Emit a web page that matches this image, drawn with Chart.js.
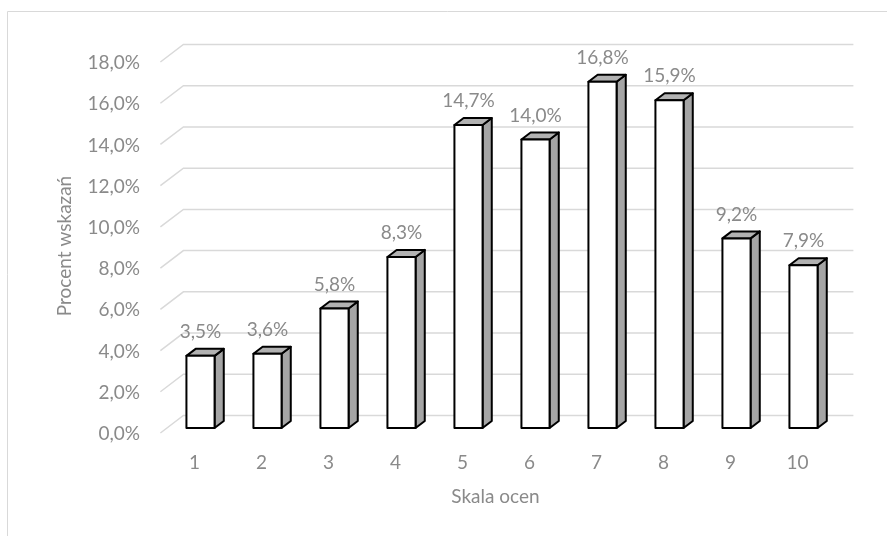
<!DOCTYPE html>
<html lang="pl">
<head>
<meta charset="utf-8">
<title>Procent wskazań – skala ocen</title>
<script src="https://cdn.jsdelivr.net/npm/chart.js@4/dist/chart.umd.min.js"></script>
<style>
  html, body { margin: 0; padding: 0; background: #ffffff; }
  #wrap { width: 887px; height: 536px; position: relative; }
</style>
</head>
<body>
<div id="wrap"><canvas id="chart" width="887" height="536"></canvas></div>
<script>
// Rating scale and share of answers (%)
const categories = ['1', '2', '3', '4', '5', '6', '7', '8', '9', '10'];
const shares = [3.5, 3.6, 5.8, 8.3, 14.7, 14.0, 16.8, 15.9, 9.2, 7.9];
const axisMin = 0;
const axisMax = 18;
const axisStep = 2;
const xTitle = 'Skala ocen';
const yTitle = 'Procent wskazań';

const FONT = 'Lato, "Open Sans", sans-serif';
const TEXT = '#8a8a8a';
const GRID = '#d9d9d9';

const pct = v => v.toFixed(1).replace('.', ',') + '%';

// Oblique depth: floor front edge -> back wall, and the bar's own depth
const FLOOR_FRONT = { dx: -6.6, dy: 5 };   // from bar front plane to floor front
const WALL = { dx: 16.4, dy: -12.5 };      // from bar front plane to back wall
const BAR_DEPTH = { dx: 9.2, dy: -7 };     // bar front face -> bar back face

const frame = {
  id: 'frame',
  beforeDraw(chart) {
    const ctx = chart.ctx;
    ctx.save();
    ctx.strokeStyle = GRID;
    ctx.lineWidth = 1;
    ctx.beginPath();
    ctx.moveTo(7.5, chart.height + 5);
    ctx.lineTo(7.5, 11.5);
    ctx.lineTo(chart.width + 5, 11.5);
    ctx.stroke();
    ctx.restore();
  }
};

const wallGrid = {
  id: 'wallGrid',
  beforeDatasetsDraw(chart) {
    const { ctx, chartArea } = chart;
    const y = chart.scales.y;
    ctx.save();
    ctx.strokeStyle = GRID;
    ctx.lineWidth = 1.5;
    for (let v = axisMin; v <= axisMax + 1e-9; v += axisStep) {
      const py = y.getPixelForValue(v);
      ctx.beginPath();
      ctx.moveTo(chartArea.left + FLOOR_FRONT.dx, py + FLOOR_FRONT.dy);
      ctx.lineTo(chartArea.left + WALL.dx, py + WALL.dy);
      ctx.lineTo(chartArea.right + WALL.dx, py + WALL.dy);
      ctx.stroke();
    }
    ctx.restore();
  }
};

const boxes = {
  id: 'boxes',
  afterDatasetsDraw(chart) {
    const ctx = chart.ctx;
    const meta = chart.getDatasetMeta(0);
    const dx = BAR_DEPTH.dx, dy = BAR_DEPTH.dy;
    ctx.save();
    ctx.lineWidth = 2;
    ctx.lineJoin = 'round';
    ctx.strokeStyle = '#000000';
    meta.data.forEach((bar, i) => {
      const { x, y, base, width } = bar.getProps(['x', 'y', 'base', 'width'], true);
      const l = x - width / 2, r = x + width / 2;
      // side face
      ctx.beginPath();
      ctx.moveTo(r, y);
      ctx.lineTo(r + dx, y + dy);
      ctx.lineTo(r + dx, base + dy);
      ctx.lineTo(r, base);
      ctx.closePath();
      ctx.fillStyle = '#a5a5a5';
      ctx.fill();
      ctx.stroke();
      // top face
      ctx.beginPath();
      ctx.moveTo(l, y);
      ctx.lineTo(l + dx, y + dy);
      ctx.lineTo(r + dx, y + dy);
      ctx.lineTo(r, y);
      ctx.closePath();
      ctx.fillStyle = '#b2b2b2';
      ctx.fill();
      ctx.stroke();
      // front face
      ctx.beginPath();
      ctx.rect(l, y, width, base - y);
      ctx.fillStyle = '#ffffff';
      ctx.fill();
      ctx.stroke();
      // value label
      ctx.fillStyle = TEXT;
      ctx.font = '19px ' + FONT;
      ctx.textAlign = 'center';
      ctx.textBaseline = 'middle';
      ctx.fillText(pct(shares[i]), x, y - 24);
    });
    ctx.restore();
  }
};

const axisTitles = {
  id: 'axisTitles',
  afterDraw(chart) {
    const { ctx, chartArea } = chart;
    ctx.save();
    ctx.fillStyle = TEXT;
    ctx.font = '19px ' + FONT;
    ctx.textAlign = 'center';
    ctx.textBaseline = 'middle';
    const cx = (chartArea.left + chartArea.right) / 2 + FLOOR_FRONT.dx;
    ctx.fillText(xTitle, cx, 497);
    ctx.translate(65, 246);
    ctx.rotate(-Math.PI / 2);
    ctx.fillText(yTitle, 0, 0);
    ctx.restore();
  }
};

new Chart(document.getElementById('chart'), {
  type: 'bar',
  data: {
    labels: categories,
    datasets: [{
      data: shares,
      backgroundColor: 'rgba(0,0,0,0)',
      borderWidth: 0,
      categoryPercentage: 0.84,
      barPercentage: 0.5
    }]
  },
  options: {
    responsive: false,
    animation: false,
    devicePixelRatio: 1,
    layout: { padding: { left: 0, top: 57, right: 50, bottom: 0 } },
    plugins: {
      legend: { display: false },
      tooltip: { enabled: false }
    },
    scales: {
      x: {
        grid: { display: false, drawTicks: false },
        border: { display: false },
        ticks: {
          color: TEXT,
          font: { family: FONT, size: 19 },
          padding: 23,
          labelOffset: -6,
          maxRotation: 0
        },
        afterFit(scale) { scale.height = 108; }
      },
      y: {
        min: axisMin,
        max: axisMax,
        grid: { display: false, drawTicks: false },
        border: { display: false },
        ticks: {
          stepSize: axisStep,
          color: TEXT,
          font: { family: FONT, size: 19 },
          padding: 27,
          labelOffset: 6,
          callback: v => pct(v)
        },
        afterFit(scale) { scale.width = 167; }
      }
    }
  },
  plugins: [frame, wallGrid, boxes, axisTitles]
});
</script>
</body>
</html>
